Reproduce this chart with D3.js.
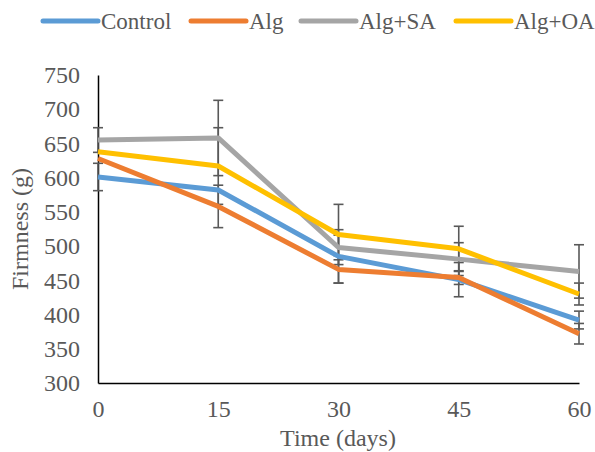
<!DOCTYPE html>
<html><head><meta charset="utf-8">
<script src="https://cdn.jsdelivr.net/npm/d3@7"></script>
<style>body{margin:0;background:#fff;} svg{display:block;}</style>
</head><body>
<svg id="chart" width="595" height="452"></svg>
<script>
const days = [0, 15, 30, 45, 60];
const seriesNames = ["Control", "Alg", "Alg+SA", "Alg+OA"];
const control = [601, 582, 485, 451, 392];
const alg = [628, 558, 466, 454, 372];
const algSA = [655, 658, 498, 481, 463];
const algOA = [638, 617, 517, 496, 430];
const errControl = [20, 0, 39, 25, 13];
const errAlg = [0, 31, 20, 10, 15];
const errAlgSA = [18, 55, 18, 24, 39];
const errAlgOA = [0, 56, 44, 33, 16];
const yTicks = [300, 350, 400, 450, 500, 550, 600, 650, 700, 750];
const colors = ["#5B9BD5", "#ED7D31", "#A5A5A5", "#FFC000"];

const values = [control, alg, algSA, algOA];
const errors = [errControl, errAlg, errAlgSA, errAlgOA];

const svg = d3.select("#chart");
const font = "'Liberation Serif'";
const txt = "#595959";
const fs = 24;

const x = d3.scaleLinear().domain([0, 60]).range([98, 579]);
const y = d3.scaleLinear().domain([300, 750]).range([383, 75]);

// axes
const yAxis = svg.append("g").attr("transform", "translate(98,0)")
  .call(d3.axisLeft(y).tickValues(yTicks).tickSize(0).tickPadding(18));
yAxis.select(".domain").attr("stroke", "#000").attr("stroke-width", 1.5);
yAxis.selectAll("text").style("font-family", font).style("font-size", fs + "px").attr("fill", txt);

const xAxis = svg.append("g").attr("transform", "translate(0,383)")
  .call(d3.axisBottom(x).tickValues(days).tickSize(0).tickPadding(17));
xAxis.select(".domain").attr("stroke", "#000").attr("stroke-width", 1.5);
xAxis.selectAll("text").style("font-family", font).style("font-size", fs + "px").attr("fill", txt);

// error bars
const eb = svg.append("g").attr("stroke", "#595959").attr("stroke-width", 1.6);
values.forEach((vals, si) => {
  vals.forEach((v, i) => {
    const e = errors[si][i];
    if (!e) return;
    const cx = x(days[i]);
    eb.append("line").attr("x1", cx).attr("x2", cx).attr("y1", y(v - e)).attr("y2", y(v + e));
    eb.append("line").attr("x1", cx - 5).attr("x2", cx + 5).attr("y1", y(v - e)).attr("y2", y(v - e));
    eb.append("line").attr("x1", cx - 5).attr("x2", cx + 5).attr("y1", y(v + e)).attr("y2", y(v + e));
  });
});

// lines
const line = d3.line().x((d, i) => x(days[i])).y(d => y(d));
values.forEach((vals, si) => {
  svg.append("path").datum(vals).attr("d", line)
    .attr("fill", "none").attr("stroke", colors[si]).attr("stroke-width", 5)
    .attr("stroke-linejoin", "round").attr("stroke-linecap", "butt");
});

// axis titles
svg.append("text").attr("x", 338).attr("y", 446).attr("text-anchor", "middle")
  .style("font-family", font).style("font-size", fs + "px").attr("fill", txt).text("Time (days)");
svg.append("text").attr("transform", "translate(28,229) rotate(-90)").attr("text-anchor", "middle")
  .style("font-family", font).style("font-size", fs + "px").attr("fill", txt).text("Firmness (g)");

// legend
const legendX = [43, 191, 301, 456];
const lg = svg.append("g");
seriesNames.forEach((n, i) => {
  lg.append("line").attr("x1", legendX[i]).attr("x2", legendX[i] + 55).attr("y1", 21).attr("y2", 21)
    .attr("stroke", colors[i]).attr("stroke-width", 5).attr("stroke-linecap", "round");
  lg.append("text").attr("x", legendX[i] + 58).attr("y", 29)
    .style("font-family", font).style("font-size", "23px").attr("fill", txt).text(n);
});
</script>
</body></html>
